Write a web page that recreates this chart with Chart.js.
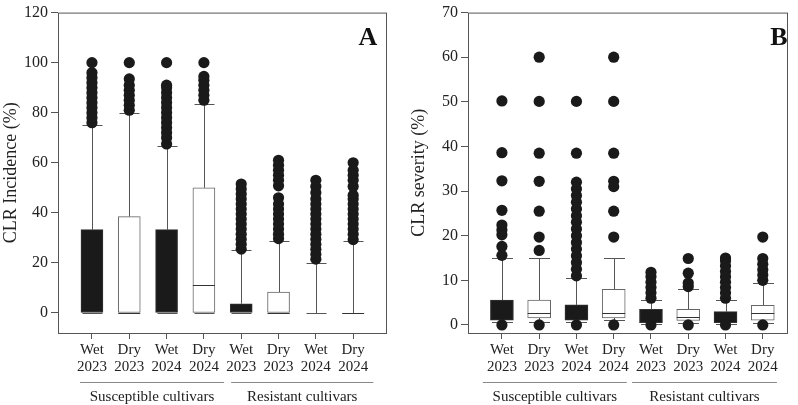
<!DOCTYPE html>
<html>
<head>
<meta charset="utf-8">
<script src="https://cdn.jsdelivr.net/npm/chart.js@4.4.1/dist/chart.umd.min.js"></script>
<style>
  body { margin: 0; background: #fff; }
  .panel { position: absolute; top: 0; }
</style>
</head>
<body>
<div class="panel" style="left:0"><canvas id="chartA" width="400" height="405"></canvas></div>
<div class="panel" style="left:400px"><canvas id="chartB" width="398" height="405"></canvas></div>
<script>
// categories
const seasons = [["Wet", "2023"], ["Dry", "2023"], ["Wet", "2024"], ["Dry", "2024"],
                 ["Wet", "2023"], ["Dry", "2023"], ["Wet", "2024"], ["Dry", "2024"]];
const positions = [1, 2, 3, 4, 5, 6, 7, 8];
const groupLabels = ["Susceptible cultivars", "Resistant cultivars"];
const isWet = [true, false, true, false, true, false, true, false];

// A: CLR incidence (%)
const incLow = [0, 0, 0, 0, 0, 0, 0, 0];
const incQ1 = [0, 0, 0, 0, 0, 0, 0, 0];
const incMedian = [0, 0, 0, 11.1, 0, 0, 0, 0];
const incQ3 = [33.3, 38.5, 33.3, 50, 3.7, 8.3, 0, 0];
const incHigh = [75, 80, 66.7, 83.3, 25, 28.6, 20, 28.6];
const incOutliers = [
  [76, 78, 80, 82, 84, 86, 88, 90, 92, 94, 96, 100],
  [81, 83, 85, 87, 89, 91, 93.5, 100],
  [67.5, 70, 72, 74, 76, 78, 80, 82, 84, 86, 88, 90, 91, 100],
  [85, 87, 89, 91, 93, 94.5, 100],
  [25.5, 27.5, 29.5, 31.5, 33.5, 35.5, 37.5, 39.5, 41.5, 43.5, 45.5, 47.5, 49.5, 51.5],
  [29.7, 31.5, 33.5, 35.5, 37.5, 39.5, 41.5, 43.5, 46, 50.8, 53, 55, 57, 59, 61],
  [21.5, 23.5, 25.5, 27.5, 29.5, 31.5, 33.5, 35.5, 37.5, 39.5, 41.5, 43.5, 45.5, 48, 50.5, 53],
  [29.3, 31.5, 33.5, 35.5, 37.5, 39.5, 41.5, 43.5, 45.5, 47, 50.5, 53, 55, 57, 60]
];
const incTicks = [0, 20, 40, 60, 80, 100, 120];

// B: CLR severity (%)
const sevLow = [0.6, 0.7, 0.6, 1.1, 0.3, 0.5, 0.3, 0.5];
const sevQ1 = [1.1, 1.6, 1.1, 1.6, 0.5, 1.0, 0.5, 1.1];
const sevMedian = [2.5, 2.6, 2.5, 2.6, 1.5, 1.7, 1.5, 2.6];
const sevQ3 = [5.6, 5.6, 4.5, 8.0, 3.5, 3.5, 3.0, 4.4];
const sevHigh = [14.9, 14.9, 10.6, 14.9, 5.5, 8.1, 5.5, 9.4];
const sevOutliers = [
  [0, 15.6, 17.6, 20.2, 21.3, 22.4, 25.7, 32.3, 38.6, 50.2],
  [0, 16.7, 19.7, 25.5, 32.2, 38.5, 50.1, 60],
  [0, 11, 12.5, 14, 15.5, 17, 18.5, 20, 21.5, 23, 24.5, 26, 27.5, 29, 30.5, 32, 38.5, 50.1],
  [0, 19.7, 25.5, 31, 32.2, 38.5, 50.1, 60],
  [0, 6, 7.2, 8.4, 9.6, 10.8, 11.8],
  [0, 8.6, 9.4, 11.6, 14.9],
  [0, 6, 7.2, 8.4, 9.6, 10.8, 12, 13.2, 14.4, 15],
  [0, 10, 11.2, 12.4, 13.6, 14.9, 19.7]
];
const sevTicks = [0, 10, 20, 30, 40, 50, 60, 70];

const FONT = "'Liberation Serif', 'Times New Roman', serif";
const INK = "#222";
const LINE = "#555";

// whiskers under the boxes, medians on top of them
const boxPlotPlugin = {
  id: "boxPlot",
  beforeDatasetsDraw(chart, args, opts) {
    const { ctx } = chart;
    const x = chart.scales.x, y = chart.scales.y;
    ctx.save();
    ctx.strokeStyle = LINE;
    ctx.lineWidth = 1;
    positions.forEach((p, i) => {
      const px = Math.round(x.getPixelForValue(p)) + 0.5;
      const half = opts.capWidth / 2;
      const yHi = Math.round(y.getPixelForValue(opts.high[i])) + 0.5;
      const yQ3 = y.getPixelForValue(opts.q3[i]);
      const yQ1 = y.getPixelForValue(opts.q1[i]);
      const yLo = Math.round(y.getPixelForValue(opts.low[i])) + 0.5;
      ctx.beginPath();
      ctx.moveTo(px, yHi); ctx.lineTo(px, yQ3);
      ctx.moveTo(px, yQ1); ctx.lineTo(px, yLo);
      ctx.moveTo(px - half, yHi); ctx.lineTo(px + half, yHi);
      ctx.moveTo(px - half, yLo); ctx.lineTo(px + half, yLo);
      ctx.stroke();
    });
    ctx.restore();
  },
  afterDatasetDraw(chart, args, opts) {
    if (args.index !== 0) return;
    const { ctx } = chart;
    const x = chart.scales.x, y = chart.scales.y;
    ctx.save();
    ctx.strokeStyle = "#333";
    ctx.lineWidth = 1;
    positions.forEach((p, i) => {
      if (isWet[i]) return;
      const px = x.getPixelForValue(p);
      const ym = Math.round(y.getPixelForValue(opts.median[i])) + 0.5;
      ctx.beginPath();
      ctx.moveTo(px - opts.boxWidth / 2, ym);
      ctx.lineTo(px + opts.boxWidth / 2, ym);
      ctx.stroke();
    });
    ctx.restore();
  },
  afterDraw(chart, args, opts) {
    const { ctx, chartArea: a } = chart;
    const x = chart.scales.x;
    ctx.save();
    // frame
    ctx.strokeStyle = LINE;
    ctx.lineWidth = 1;
    ctx.strokeRect(a.left + 0.5, a.top + 0.5, a.right - a.left, a.bottom - a.top);
    // panel letter
    ctx.fillStyle = "#111";
    ctx.font = "bold 26px " + FONT;
    ctx.textAlign = "center";
    ctx.textBaseline = "middle";
    ctx.fillText(opts.letter, a.right - opts.letterDx, a.top + 26);
    // cultivar groups
    opts.groups.forEach((g, k) => {
      const x0 = x.getPixelForValue(g[0]), x1 = x.getPixelForValue(g[1]);
      ctx.strokeStyle = "#888";
      ctx.beginPath();
      ctx.moveTo(x0, a.bottom + 49.5);
      ctx.lineTo(x1, a.bottom + 49.5);
      ctx.stroke();
      ctx.fillStyle = INK;
      ctx.font = "15px " + FONT;
      ctx.fillText(groupLabels[k], (x0 + x1) / 2, a.bottom + 64);
    });
    ctx.restore();
  }
};

const makeChart = (canvasId, cfg) => {
  const boxes = positions.map((p, i) => ({ x: p, y: [cfg.q1[i], cfg.q3[i]] }));
  const dots = [];
  cfg.outliers.forEach((list, i) => list.forEach((v) => dots.push({ x: positions[i], y: v })));

  new Chart(document.getElementById(canvasId), {
    type: "scatter",
    data: {
      datasets: [
        {
          type: "bar",
          data: boxes,
          backgroundColor: isWet.map((w) => (w ? "#1a1a1a" : "#ffffff")),
          borderColor: isWet.map((w) => (w ? "#333" : "#666")),
          borderWidth: 1,
          borderSkipped: false,
          barThickness: cfg.boxWidth,
          order: 2
        },
        {
          type: "scatter",
          data: dots,
          pointRadius: 5.6,
          pointBackgroundColor: "#1a1a1a",
          pointBorderWidth: 0,
          order: 1
        }
      ]
    },
    options: {
      responsive: false,
      animation: false,
      layout: { padding: { top: 6, right: cfg.padRight, left: 0, bottom: 0 } },
      plugins: {
        legend: { display: false },
        tooltip: { enabled: false },
        boxPlot: {
          low: cfg.low, q1: cfg.q1, median: cfg.median, q3: cfg.q3, high: cfg.high,
          capWidth: cfg.boxWidth - 2, boxWidth: cfg.boxWidth,
          letter: cfg.letter, letterDx: cfg.letterDx, groups: cfg.groups
        }
      },
      scales: {
        x: {
          type: "linear",
          min: cfg.xMin,
          max: cfg.xMax,
          offset: false,
          afterFit: (s) => { s.height = 72; },
          afterBuildTicks: (s) => { s.ticks = positions.map((v) => ({ value: v })); },
          border: { display: false },
          grid: { drawOnChartArea: false, drawTicks: true, tickLength: 6, color: LINE, offset: false },
          ticks: {
            autoSkip: false,
            maxRotation: 0,
            padding: 3,
            color: INK,
            font: { family: FONT, size: 15, lineHeight: 1.1 },
            callback: (v) => seasons[positions.indexOf(v)]
          }
        },
        y: {
          min: cfg.yMin,
          max: cfg.yMax,
          afterFit: (s) => { s.width = cfg.axisWidth; },
          afterBuildTicks: (s) => { s.ticks = cfg.ticks.map((v) => ({ value: v })); },
          border: { display: false },
          grid: { drawOnChartArea: false, drawTicks: true, tickLength: 7, color: LINE },
          ticks: { padding: 3, color: INK, font: { family: FONT, size: 16 } },
          title: {
            display: true,
            text: cfg.yTitle,
            color: INK,
            font: { family: FONT, size: 18 },
            padding: { top: cfg.titlePad, bottom: 0 }
          }
        }
      }
    },
    plugins: [boxPlotPlugin]
  });
};

makeChart("chartA", {
  low: incLow, q1: incQ1, median: incMedian, q3: incQ3, high: incHigh, outliers: incOutliers,
  ticks: incTicks, yMin: -8, yMax: 120, xMin: 0.09, xMax: 8.88,
  yTitle: "CLR Incidence (%)", titlePad: 0, axisWidth: 58, padRight: 14,
  boxWidth: 22, letter: "A", letterDx: 18,
  groups: [[0.68, 4.54], [4.73, 8.54]]
});

makeChart("chartB", {
  low: sevLow, q1: sevQ1, median: sevMedian, q3: sevQ3, high: sevHigh, outliers: sevOutliers,
  ticks: sevTicks, yMin: -1.8, yMax: 70, xMin: 0.09, xMax: 8.65,
  yTitle: "CLR severity (%)", titlePad: 8, axisWidth: 68, padRight: 11,
  boxWidth: 23, letter: "B", letterDx: 8,
  groups: [[0.49, 4.35], [4.49, 8.38]]
});
</script>
</body>
</html>
